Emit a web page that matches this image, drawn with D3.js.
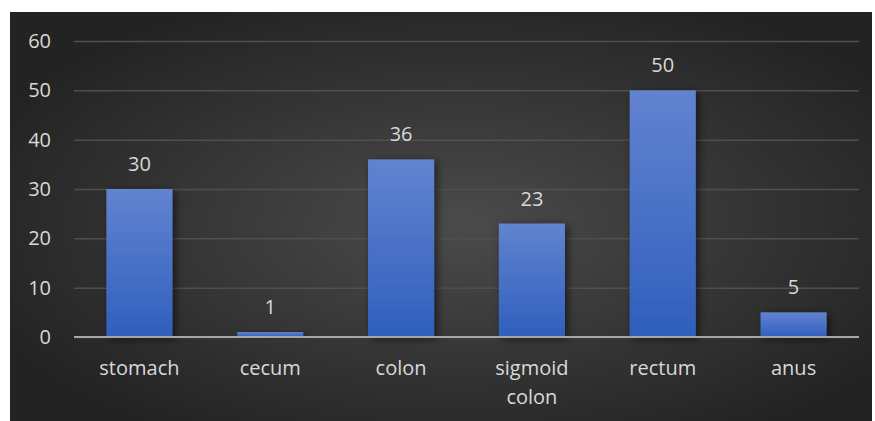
<!DOCTYPE html>
<html>
<head>
<meta charset="utf-8">
<script src="https://cdn.jsdelivr.net/npm/d3@7"></script>
<style>
  html, body { margin: 0; padding: 0; background: #ffffff; }
  svg { display: block; }
</style>
</head>
<body>
<svg id="chart" width="875" height="421"></svg>
<script>
// Case counts by site
const categories = ["stomach", "cecum", "colon", "sigmoid colon", "rectum", "anus"];
const counts = [30, 1, 36, 23, 50, 5];
const yTicks = [0, 10, 20, 30, 40, 50, 60];

const W = 875, H = 421;
const frame = { x: 10, y: 12, w: 862, h: 409 };
const plot = { left: 74, right: 859, top: 41, bottom: 337 };
const textColor = "#d9d9d9";
const font = "'Open Sans', 'DejaVu Sans', sans-serif";

const svg = d3.select("#chart");
const defs = svg.append("defs");

// Dark radial background
const bg = defs.append("radialGradient").attr("id", "bg")
  .attr("cx", "52%").attr("cy", "52%").attr("r", "60%");
bg.append("stop").attr("offset", "0%").attr("stop-color", "#4b4b4b");
bg.append("stop").attr("offset", "100%").attr("stop-color", "#232323");

// Bar fill: lighter at the top
const barGrad = defs.append("linearGradient").attr("id", "barFill")
  .attr("x1", 0).attr("y1", 0).attr("x2", 0).attr("y2", 1);
barGrad.append("stop").attr("offset", "0%").attr("stop-color", "#6283d0");
barGrad.append("stop").attr("offset", "100%").attr("stop-color", "#2f5fbd");

// Soft shadow behind bars
const shadow = defs.append("filter").attr("id", "shadow")
  .attr("x", "-30%").attr("y", "-30%").attr("width", "160%").attr("height", "160%");
shadow.append("feDropShadow").attr("dx", 3).attr("dy", 2)
  .attr("stdDeviation", 4).attr("flood-color", "#000").attr("flood-opacity", 0.55);

svg.append("rect")
  .attr("x", frame.x).attr("y", frame.y)
  .attr("width", frame.w).attr("height", frame.h)
  .attr("fill", "url(#bg)");

const x = d3.scaleBand()
  .domain(categories)
  .range([plot.left, plot.right])
  .paddingInner(0.495).paddingOuter(0.2475);

const y = d3.scaleLinear().domain([0, 60]).range([plot.bottom, plot.top]);

// Gridlines and y tick labels
const yAxis = d3.axisLeft(y).tickValues(yTicks).tickSize(-(plot.right - plot.left)).tickPadding(23);
const gy = svg.append("g").attr("transform", `translate(${plot.left},0)`).call(yAxis);
gy.select(".domain").remove();
gy.selectAll(".tick line").attr("stroke", "#4f4f4f").attr("stroke-width", 1.5);
gy.selectAll(".tick text")
  .attr("fill", textColor).attr("font-family", font).attr("font-size", 20);

// Bars
svg.append("g").selectAll("rect")
  .data(counts)
  .join("rect")
  .attr("x", (d, i) => x(categories[i]))
  .attr("y", d => y(d))
  .attr("width", x.bandwidth())
  .attr("height", d => y(0) - y(d))
  .attr("fill", "url(#barFill)")
  .attr("filter", "url(#shadow)");

// Baseline
svg.append("line")
  .attr("x1", plot.left).attr("x2", plot.right)
  .attr("y1", y(0)).attr("y2", y(0))
  .attr("stroke", "#a6a6a6").attr("stroke-width", 2);

// Value labels
svg.append("g").selectAll("text")
  .data(counts)
  .join("text")
  .attr("x", (d, i) => x(categories[i]) + x.bandwidth() / 2)
  .attr("y", d => y(d) - 18)
  .attr("text-anchor", "middle")
  .attr("fill", textColor).attr("font-family", font).attr("font-size", 20)
  .text(d => d);

// Category labels (wrapped onto lines by word when needed)
const catLines = { "sigmoid colon": ["sigmoid", "colon"] };
const gx = svg.append("g");
categories.forEach(c => {
  const lines = catLines[c] || [c];
  const t = gx.append("text")
    .attr("x", x(c) + x.bandwidth() / 2)
    .attr("y", 375)
    .attr("text-anchor", "middle")
    .attr("fill", textColor).attr("font-family", font).attr("font-size", 20);
  lines.forEach((ln, k) => {
    t.append("tspan").attr("x", x(c) + x.bandwidth() / 2).attr("dy", k === 0 ? 0 : 29).text(ln);
  });
});
</script>
</body>
</html>
